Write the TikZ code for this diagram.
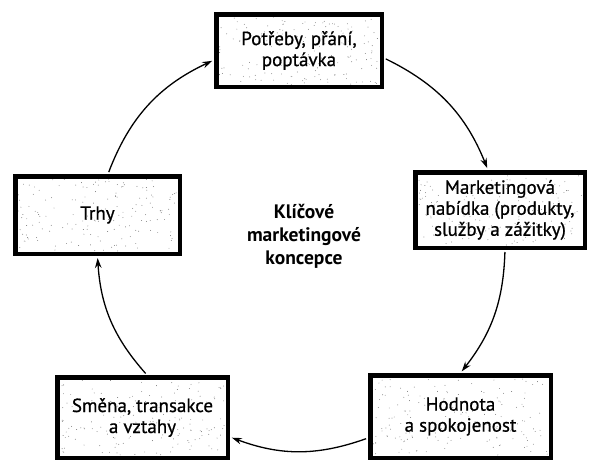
\documentclass[tikz,border=0pt]{standalone}
\usepackage{fontspec}
\setmainfont{PT Sans}
\newfontfamily\boxfont{PT Sans}[FakeBold=0.8]
\usetikzlibrary{arrows.meta,calc}
\newcommand\myspecks[5]{%
  \pgfmathsetseed{#5}%
  \foreach \i in {1,...,160}{%
    \pgfmathsetmacro\sx{#1+rand*#3/2}%
    \pgfmathsetmacro\sy{#2+rand*#4/2}%
    \fill[black!55] (\sx,\sy) circle (0.45pt);
  }%
}
\tikzset{
  box/.style={draw=black, line width=4.5pt, align=center, inner sep=2pt,
    font=\boxfont\fontsize{19}{21}\selectfont},
  conn/.style={-{Stealth[length=10pt,width=6.5pt]}, line width=1.3pt,
    shorten >=2pt, shorten <=2pt},
}
\begin{document}
\begin{tikzpicture}[x=1pt,y=1pt]
\useasboundingbox (0,0) rectangle (590,-464);
\myspecks{299}{-50.5}{160}{68}{11}
\myspecks{500}{-210}{164}{70}{22}
\myspecks{97.5}{-215}{159}{72}{33}
\myspecks{460.5}{-416.5}{175}{77}{44}
\myspecks{142.5}{-417.5}{165}{75}{55}
\node[box, minimum width=165.5pt, minimum height=72.5pt] (top) at (299,-50.5) {Potřeby, přání,\\poptávka};
\node[box, minimum width=169.5pt, minimum height=75.5pt] (right) at (500,-210) {Marketingová\\nabídka (produkty,\\služby a zážitky)};
\node[box, minimum width=164.5pt, minimum height=77.5pt] (trhy) at (97.5,-215) {Trhy};
\node[box, minimum width=180.5pt, minimum height=82.5pt] (hod) at (460.5,-416.5) {Hodnota\\a spokojenost};
\node[box, minimum width=170.5pt, minimum height=80.5pt] (smena) at (142.5,-417.5) {Směna, transakce\\a vztahy};
\node[align=center, font=\fontsize{19.5}{23}\selectfont\bfseries] (center) at (304,-236) {Klíčové\\marketingové\\koncepce};
\draw[conn] ([xshift=10.5pt]trhy.north) to[bend left=22] ([yshift=-9.5pt]top.west);
\draw[conn] ([yshift=-7.5pt]top.east) to[bend left=21] ([xshift=-12pt]right.north);
\draw[conn] ([xshift=5pt]right.south) to[bend left=18] (hod.north);
\draw[conn] ([yshift=-21.5pt]hod.west) to[bend left=20] ([yshift=-19.5pt]smena.east);
\draw[conn] ([xshift=4.5pt]smena.north) to[bend left=19] (trhy.south);
\end{tikzpicture}
\end{document}
